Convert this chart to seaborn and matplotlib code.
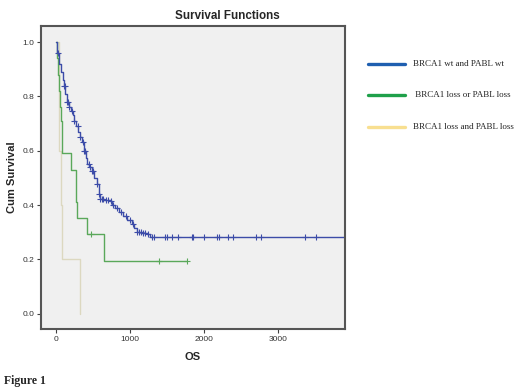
import numpy as np
import pandas as pd
import matplotlib
matplotlib.use("Agg")
import matplotlib.pyplot as plt
import seaborn as sns

# Kaplan-Meier step curves (time in days, cum survival)
wt_time = [0, 20, 45, 70, 90, 108, 125, 144, 170, 203, 225, 243, 270, 302, 325, 347, 378, 400,
           423, 450, 482, 515, 550, 577, 595, 650, 730, 760, 797, 850, 910, 960, 1023, 1060,
           1099, 1160, 1225, 1270, 3950]
wt_surv = [1.0, 0.96, 0.92, 0.89, 0.86, 0.84, 0.81, 0.78, 0.76, 0.745, 0.73, 0.71, 0.69, 0.67,
           0.65, 0.632, 0.60, 0.575, 0.552, 0.54, 0.527, 0.50, 0.478, 0.44, 0.422, 0.418, 0.416,
           0.40, 0.39, 0.375, 0.36, 0.345, 0.33, 0.315, 0.302, 0.299, 0.292, 0.284, 0.284]
wt_cens = [30, 108, 120, 150, 160, 180, 215, 250, 300, 330, 360, 378, 390, 440, 460, 490, 500,
           560, 580, 600, 620, 640, 680, 700, 740, 770, 820, 880, 940, 1000, 1040, 1100, 1120,
           1150, 1180, 1200, 1240, 1293, 1324, 1473, 1495, 1572, 1644, 1833, 1847, 2004, 2180,
           2198, 2329, 2396, 2703, 2766, 3365, 3509]

one_time = [0, 10, 25, 35, 50, 64, 81, 203, 270, 280, 423, 644, 1770]
one_surv = [1.0, 0.94, 0.88, 0.82, 0.76, 0.71, 0.59, 0.53, 0.41, 0.353, 0.294, 0.196, 0.196]
one_cens = [469, 1388, 1770]

both_time = [0, 36, 68, 80, 320]
both_surv = [1.0, 0.6, 0.4, 0.2, 0.0]

legend_labels = ["BRCA1 wt and PABL wt", " BRCA1 loss or PABL loss", "BRCA1 loss and PABL loss"]
legend_colors = ["#1f5fb0", "#1fa04a", "#f8df90"]


def surv_at(times, surv, t):
    idx = np.searchsorted(times, t, side="right") - 1
    return np.array(surv)[idx]


sns.set_style("white")
plt.rcParams["font.family"] = ["Liberation Sans", "DejaVu Sans"]

fig = plt.figure(figsize=(5.2, 3.92), dpi=100)
ax = fig.add_axes([0.0788, 0.1607, 0.5846, 0.773])
ax.set_facecolor("#f0f0f0")

curves = [
    (both_time, both_surv, [], "#dcd8c0"),
    (one_time, one_surv, one_cens, "#5aa85a"),
    (wt_time, wt_surv, wt_cens, "#3c4ca8"),
]
for t, s, c, col in curves:
    sns.lineplot(x=t, y=s, drawstyle="steps-post", estimator=None, sort=False,
                 color=col, linewidth=1.0, ax=ax, legend=False)
    if c:
        cy = surv_at(t, s, c)
        sns.scatterplot(x=c, y=cy, marker="+", s=18, color=col, linewidth=0.8, ax=ax,
                        legend=False, zorder=3)

ax.set_xlim(-203, 3905)
ax.set_ylim(-0.056, 1.059)
ax.set_xticks([0, 1000, 2000, 3000])
ax.set_yticks([0.0, 0.2, 0.4, 0.6, 0.8, 1.0])
ax.set_yticklabels(["0.0", "0.2", "0.4", "0.6", "0.8", "1.0"])
ax.tick_params(axis="both", direction="out", length=3, width=0.8, color="#404040",
               labelsize=6, labelcolor="#333333", pad=2, left=True, bottom=True)
for sp in ax.spines.values():
    sp.set_color("#555555")
    sp.set_linewidth(1.5)

ax.set_xlabel("")
ax.set_ylabel("")
fig.text(0.371, 0.089, "OS", fontsize=8, fontweight="bold", ha="center", va="center")
fig.text(0.023, 0.547, "Cum Survival", fontsize=8, fontweight="bold", rotation=90,
         ha="center", va="center")
fig.text(0.438, 0.959, "Survival Functions", fontsize=8.4, fontweight="bold",
         ha="center", va="center")
fig.text(0.008, 0.028, "Figure 1", fontsize=8.5, fontweight="bold", family="Liberation Serif",
         ha="left", va="center")

# hand-drawn style legend on the right
ly = [0.838, 0.757, 0.675]
for lab, col, y in zip(legend_labels, legend_colors, ly):
    fig.add_artist(plt.Line2D([0.708, 0.779], [y, y], color=col, linewidth=2.4,
                              transform=fig.transFigure))
    fig.text(0.794, y, lab, fontsize=6.5, family="Liberation Serif", color="#222222",
             ha="left", va="center")

fig.savefig("out.png", dpi=100)
